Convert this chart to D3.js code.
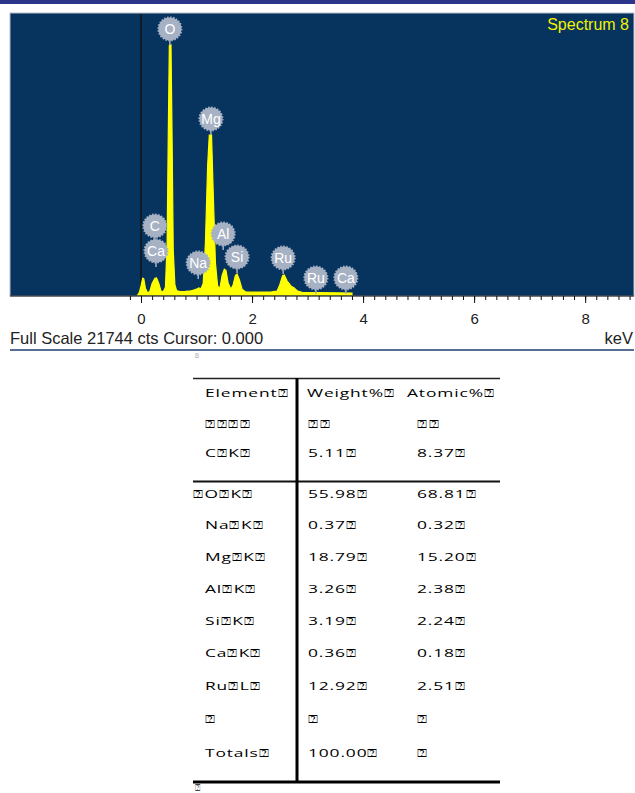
<!DOCTYPE html>
<html>
<head>
<meta charset="utf-8">
<script src="https://cdn.jsdelivr.net/npm/d3@7"></script>
<style>
  body { margin: 0; background: #fff; }
  svg { display: block; }
  .tbl text { font-family: "Open Sans", sans-serif; font-size: 12px; fill: #000; letter-spacing: 0.6px; }
</style>
</head>
<body>
<div id="chart"></div>
<script>
// Spettro EDS: energia (keV) e conteggi
const SPEC_KEV = [-0.06, -0.03, 0.0, 0.03, 0.05, 0.08, 0.12, 0.16, 0.2, 0.25, 0.28, 0.32, 0.36, 0.4, 0.44,
  0.47, 0.49, 0.51, 0.54, 0.56, 0.58, 0.61, 0.64, 0.7, 0.8, 0.9, 0.95, 1.0, 1.04, 1.08, 1.12, 1.16, 1.2,
  1.23, 1.27, 1.3, 1.34, 1.38, 1.42, 1.46, 1.5, 1.53, 1.57, 1.62, 1.66, 1.7, 1.73, 1.77, 1.82, 1.88, 2.0,
  2.2, 2.35, 2.45, 2.5, 2.55, 2.58, 2.63, 2.7, 2.76, 2.82, 2.9, 3.2, 3.5, 3.8];
const SPEC_CTS = [0, 200, 700, 1300, 1250, 500, 150, 300, 900, 1300, 1320, 900, 300, 250, 600,
  4000, 12000, 19300, 19350, 12000, 3500, 800, 350, 260, 280, 330, 380, 450, 540, 480, 900, 4000, 10000,
  12380, 12380, 8000, 2500, 700, 500, 1500, 2000, 1900, 900, 450, 800, 1500, 1620, 1200, 450, 250, 220,
  230, 240, 300, 800, 1500, 1540, 1100, 700, 550, 300, 200, 180, 170, 150];

// Etichette dei picchi
const LABEL_EL = ["O", "Mg", "C", "Ca", "Na", "Al", "Si", "Ru", "Ru", "Ca"];
const LABEL_KEV = [0.52, 1.26, 0.25, 0.27, 1.03, 1.48, 1.73, 2.56, 3.15, 3.69];
const LABEL_CTS = [20590, 13620, 5340, 3405, 2477, 4720, 2940, 2864, 1316, 1316];

const AXIS_MAJOR = [0, 2, 4, 6, 8];
const FULL_SCALE = 21744;

// Tabella composizione ("\u2370" = glifo mancante come nell'originale)
const Q = "\u2370";
const TABLE_HEAD = ["Element" + Q, "Weight%" + Q, "Atomic%" + Q];
const ELEMENTS = [Q + Q + Q + Q, "C" + Q + "K" + Q, Q + "O" + Q + "K" + Q, "Na" + Q + "K" + Q, "Mg" + Q + "K" + Q,
  "Al" + Q + "K" + Q, "Si" + Q + "K" + Q, "Ca" + Q + "K" + Q, "Ru" + Q + "L" + Q, Q, "Totals" + Q];
const WEIGHT = [Q + Q, "5.11" + Q, "55.98" + Q, "0.37" + Q, "18.79" + Q, "3.26" + Q, "3.19" + Q, "0.36" + Q, "12.92" + Q, Q, "100.00" + Q];
const ATOMIC = [Q + Q, "8.37" + Q, "68.81" + Q, "0.32" + Q, "15.20" + Q, "2.38" + Q, "2.24" + Q, "0.18" + Q, "2.51" + Q, Q, Q];

const W = 635, H = 793;
const FONT = "Liberation Sans, Arial, sans-serif";
const svg = d3.select("#chart").append("svg").attr("width", W).attr("height", H);

// Banda superiore
svg.append("rect").attr("x", 0).attr("y", 0).attr("width", W).attr("height", 4).attr("fill", "#2b3589");

const plot = { left: 10, right: 634, top: 13, bottom: 296 };
const x = d3.scaleLinear().domain([-2.36, 8.88]).range([plot.left, plot.right]);
const y = d3.scaleLinear().domain([0, FULL_SCALE]).range([plot.bottom - 1, plot.top + 1]);

svg.append("rect")
  .attr("x", plot.left).attr("y", plot.top)
  .attr("width", plot.right - plot.left).attr("height", plot.bottom - plot.top)
  .attr("fill", "#07335f").attr("stroke", "#b8c0cc").attr("stroke-width", 1);

svg.append("clipPath").attr("id", "clip").append("rect")
  .attr("x", plot.left).attr("y", plot.top)
  .attr("width", plot.right - plot.left).attr("height", plot.bottom - plot.top);

// Linea a 0 keV
svg.append("line")
  .attr("x1", x(0)).attr("x2", x(0)).attr("y1", plot.top + 1).attr("y2", plot.bottom)
  .attr("stroke", "#141414").attr("stroke-width", 1.5);

// Spettro
const spec = SPEC_KEV.map((k, i) => ({ k, c: SPEC_CTS[i] }));
const area = d3.area().x((d) => x(d.k)).y0(y(0)).y1((d) => y(d.c));
svg.append("path").datum(spec).attr("clip-path", "url(#clip)")
  .attr("d", area).attr("fill", "#ffff00").attr("stroke", "#ffff00").attr("stroke-width", 1.2);

// Etichette elementi
const lab = svg.append("g");
LABEL_EL.forEach((el, i) => {
  const cx = x(LABEL_KEV[i]), cy = y(LABEL_CTS[i]);
  const g = lab.append("g");
  g.append("line").attr("x1", cx).attr("x2", cx).attr("y1", cy).attr("y2", cy + 16)
    .attr("stroke", "#a6b1c4").attr("stroke-width", 1.5);
  g.append("circle").attr("cx", cx).attr("cy", cy).attr("r", 11.5)
    .attr("fill", "#a6b1c4").attr("stroke", "#a6b1c4").attr("stroke-width", 2).attr("stroke-dasharray", "1.5 1.5");
  g.append("text").attr("x", cx).attr("y", cy).attr("dy", "0.36em").attr("text-anchor", "middle")
    .attr("font-family", FONT).attr("font-size", 14).attr("fill", "#fff")
    .text(el);
});

svg.append("text").attr("x", 629).attr("y", 30).attr("text-anchor", "end")
  .attr("font-family", FONT).attr("font-size", 16).attr("fill", "#f2f200")
  .text("Spectrum 8");

// Asse x: tacche minori e maggiori
const minor = d3.range(-0.2, 8.81, 0.2).map((v) => +v.toFixed(1));
svg.append("g").attr("transform", `translate(0,${plot.bottom})`)
  .call(d3.axisBottom(x).tickValues(minor).tickSize(4).tickFormat(""))
  .call((g) => g.select(".domain").remove())
  .call((g) => g.selectAll("line").attr("stroke", "#111"));
svg.append("g").attr("transform", `translate(0,${plot.bottom})`)
  .call(d3.axisBottom(x).tickValues(AXIS_MAJOR).tickSize(7).tickPadding(10).tickFormat(d3.format("d")))
  .call((g) => g.select(".domain").remove())
  .call((g) => g.selectAll("line").attr("stroke", "#111"))
  .call((g) => g.selectAll("text").attr("font-family", FONT).attr("font-size", 15).attr("fill", "#222"));
svg.append("line").attr("x1", plot.left).attr("x2", plot.right).attr("y1", plot.bottom).attr("y2", plot.bottom)
  .attr("stroke", "#111").attr("stroke-width", 1.2);

svg.append("text").attr("x", 10).attr("y", 344)
  .attr("font-family", FONT).attr("font-size", 16.5).attr("fill", "#222")
  .text(`Full Scale ${FULL_SCALE} cts Cursor: 0.000`);
svg.append("text").attr("x", 633).attr("y", 344).attr("text-anchor", "end")
  .attr("font-family", FONT).attr("font-size", 16.5).attr("fill", "#222")
  .text("keV");
svg.append("line").attr("x1", plot.left).attr("x2", plot.right).attr("y1", 350).attr("y2", 350)
  .attr("stroke", "#1e3f6e").attr("stroke-width", 1.5);

// Tabella
const tbl = svg.append("g").attr("class", "tbl");
const rowY = [428, 457, 498, 529, 561, 593, 625, 657, 690, 723, 757];
const colX = [205, 308, 417];

function cell(tx, ty, str) {
  tbl.append("text").attr("transform", `translate(${tx},${ty}) scale(1.45,0.95)`).text(str);
}
svg.append("text").attr("x", 195).attr("y", 358).attr("font-size", 6).attr("fill", "#444").text(Q);

cell(205, 397, TABLE_HEAD[0]);
cell(307, 397, TABLE_HEAD[1]);
cell(407, 397, TABLE_HEAD[2]);
ELEMENTS.forEach((e, i) => {
  cell(i === 2 ? 193 : colX[0], rowY[i], e);
  cell(colX[1], rowY[i], WEIGHT[i]);
  cell(colX[2], rowY[i], ATOMIC[i]);
});

tbl.append("line").attr("x1", 193).attr("x2", 500).attr("y1", 378.5).attr("y2", 378.5).attr("stroke", "#222").attr("stroke-width", 1.5);
tbl.append("line").attr("x1", 193).attr("x2", 500).attr("y1", 481.5).attr("y2", 481.5).attr("stroke", "#111").attr("stroke-width", 2);
tbl.append("line").attr("x1", 193).attr("x2", 500).attr("y1", 782).attr("y2", 782).attr("stroke", "#000").attr("stroke-width", 3);
tbl.append("line").attr("x1", 297).attr("x2", 297).attr("y1", 378).attr("y2", 782).attr("stroke", "#000").attr("stroke-width", 3);

svg.append("text").attr("x", 195).attr("y", 791).attr("font-size", 9).attr("fill", "#444").text(Q);
</script>
</body>
</html>
